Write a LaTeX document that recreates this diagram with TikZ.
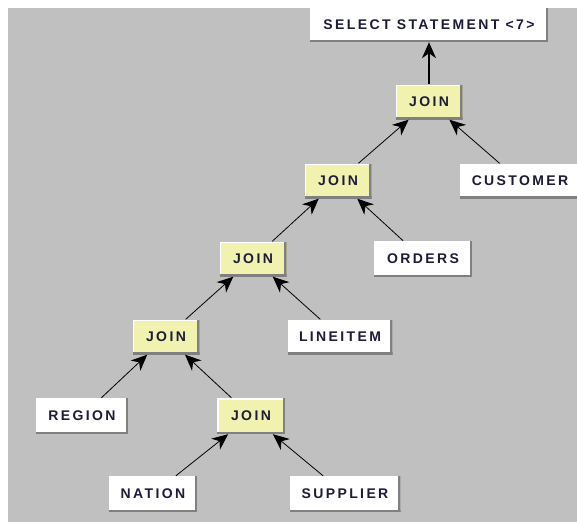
\documentclass[tikz,border=0pt]{standalone}
\usepackage{fontspec}
\setmainfont{Liberation Sans}
\usetikzlibrary{arrows.meta}
\definecolor{panel}{RGB}{192,192,192}
\definecolor{joinfill}{RGB}{242,242,176}
\definecolor{bevel}{RGB}{128,128,128}
\definecolor{label}{RGB}{28,28,56}
\begin{document}
\begin{tikzpicture}[x=1pt,y=-1pt,
  plan/.style={rectangle, inner sep=0pt, fill=#1, text=label,
    font=\fontsize{14}{16}\selectfont\bfseries\addfontfeatures{LetterSpace=17},
    path picture={
      \fill[bevel] (path picture bounding box.south west) rectangle ([yshift=2.5pt]path picture bounding box.south east);
      \fill[bevel] (path picture bounding box.south east) rectangle ([xshift=-2.5pt]path picture bounding box.north east);
      \fill[white] (path picture bounding box.north west) rectangle ([yshift=-1.5pt,xshift=-2.5pt]path picture bounding box.north east);
      \fill[white] (path picture bounding box.north west) rectangle ([xshift=1.5pt,yshift=2.5pt]path picture bounding box.south west);
    }},
  tbl/.style={plan=white},
  joinop/.style={plan=joinfill, minimum width=67pt, minimum height=35pt},
  feed/.style={draw=black, line width=0.8pt, -{Stealth[length=16pt,width=14pt,inset=5pt]}}
]
\useasboundingbox (0,0) rectangle (577,522);
\fill[panel] (8,8) rectangle (577,522);

% operator tree
\node[tbl, minimum width=238pt, minimum height=34pt] (sel) at (429,25) {SELECT STATEMENT <7>};
\node[joinop] (j1) at (429,102) {JOIN};
\node[joinop] (j2) at (338,181) {JOIN};
\node[tbl, minimum width=120pt, minimum height=35pt] (cust) at (520,181) {CUSTOMER};
\node[joinop] (j3) at (253,259) {JOIN};
\node[tbl, minimum width=98pt, minimum height=36pt] (ord) at (423,259) {ORDERS};
\node[joinop] (j4) at (166,337) {JOIN};
\node[tbl, minimum width=105pt, minimum height=35pt] (line) at (340,337) {LINEITEM};
\node[tbl, minimum width=92pt, minimum height=36pt] (reg) at (82,416) {REGION};
\node[joinop, minimum width=68pt, minimum height=36pt] (j5) at (251,416) {JOIN};
\node[tbl, minimum width=88pt, minimum height=36pt] (nat) at (153,494) {NATION};
\node[tbl, minimum width=111pt, minimum height=36pt] (sup) at (345,494) {SUPPLIER};

% data flow from inputs up to the statement
\draw[feed, line width=1.6pt] (j1) -- (sel);
\draw[feed] (j2) -- (j1);
\draw[feed] (cust) -- (j1);
\draw[feed] (j3) -- (j2);
\draw[feed] (ord) -- (j2);
\draw[feed] (j4) -- (j3);
\draw[feed] (line) -- (j3);
\draw[feed] (reg) -- (j4);
\draw[feed] (j5) -- (j4);
\draw[feed] (nat) -- (j5);
\draw[feed] (sup) -- (j5);
\end{tikzpicture}
\end{document}
